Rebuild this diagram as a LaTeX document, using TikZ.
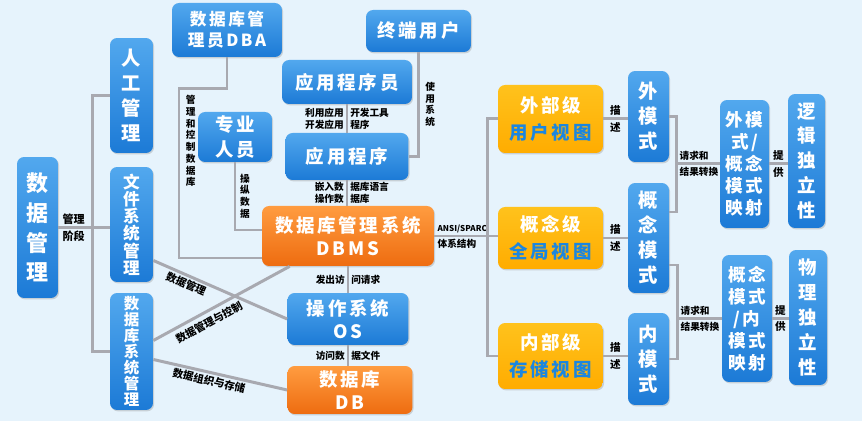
\documentclass[tikz,border=0pt]{standalone}
\usepackage{fontspec}
\usetikzlibrary{calc,shadows}
\newfontfamily\hei{Noto Sans CJK SC}
\newfontfamily\heils{Noto Sans CJK SC}[LetterSpace=15]
\definecolor{bgc}{HTML}{E6F3FC}
\definecolor{bluet}{HTML}{52A8EE}
\definecolor{blueb}{HTML}{1C7AD6}
\definecolor{orgt}{HTML}{FF9C40}
\definecolor{orgb}{HTML}{EE6C10}
\definecolor{ylwt}{HTML}{FFC21C}
\definecolor{ylwb}{HTML}{FFAC00}
\definecolor{ylwtext}{HTML}{1B86E0}
\definecolor{linec}{HTML}{A8A9B0}
\tikzset{
  fs/.style 2 args={font=\heils\bfseries\fontsize{#1}{#2}\selectfont},
  box/.style={rounded corners=4pt,inner sep=0pt,align=center,text=white,fs={10.5}{13},
    drop shadow={shadow xshift=.6pt,shadow yshift=-.8pt,opacity=.3}},
  bluebox/.style={box,top color=bluet,bottom color=blueb},
  orgbox/.style={box,top color=orgt,bottom color=orgb},
  ylwbox/.style={box,top color=ylwt,bottom color=ylwb},
  conn/.style={draw=linec,line width=1.7pt},
  lab/.style={font=\hei\bfseries\fontsize{5.5}{6.7}\selectfont,inner sep=1pt,text=black,align=center},
  biglab/.style={lab,font=\hei\bfseries\fontsize{6}{7}\selectfont}
}
\begin{document}
\begin{tikzpicture}[x=0.02cm,y=-0.02cm]
\useasboundingbox(0,0)rectangle(862,421);
\fill[bgc](0,0)rectangle(862,421);
% left part
\node[bluebox,minimum width=.82cm,minimum height=2.82cm,fs={12.5}{17}](dm)at(37.5,227.5){数\\据\\管\\理};
\node[bluebox,minimum width=.86cm,minimum height=2.3cm,fs={11}{14.2}](rg)at(131.5,95.5){人\\工\\管\\理};
\node[bluebox,minimum width=.86cm,minimum height=2.3cm,fs={9.5}{9.8}](wj)at(131.5,224.5){文\\件\\系\\统\\管\\理};
\node[bluebox,minimum width=.86cm,minimum height=2.34cm,fs={8.8}{9.1}](sjk)at(131.5,351.5){数\\据\\库\\系\\统\\管\\理};
\node[bluebox,minimum width=2.2cm,minimum height=1.08cm,fs={9.5}{12}](dba)at(227,30){数据库管\\理员DBA};
\node[bluebox,minimum width=2.1cm,minimum height=.84cm](zd)at(418.5,31){终端用户};
\node[bluebox,minimum width=2.6cm,minimum height=.88cm](yycxy)at(347,82){应用程序员};
\node[bluebox,minimum width=1.48cm,minimum height=1cm,fs={10.5}{14}](zy)at(235,137){专业\\人员};
\node[bluebox,minimum width=2.46cm,minimum height=.94cm](yyc)at(347,156.5){应用程序};
\node[orgbox,minimum width=3.44cm,minimum height=1.2cm](dbms)at(348,236){数据库管理系统\\DBMS};
\node[bluebox,minimum width=2.42cm,minimum height=1.04cm](os)at(348,319){操作系统\\OS};
\node[orgbox,minimum width=2.5cm,minimum height=.96cm](db)at(350,390){数据库\\DB};
% right part
\node[ylwbox,minimum width=2.1cm,minimum height=1.36cm,fs={10.5}{15}](wbj)at(550.5,119){外部级\\{\color{ylwtext}用户视图}};
\node[ylwbox,minimum width=2.1cm,minimum height=1.24cm,fs={10.5}{15}](gnj)at(550.5,238){概念级\\{\color{ylwtext}全局视图}};
\node[ylwbox,minimum width=2.1cm,minimum height=1.32cm,fs={10.5}{15}](nbj)at(550.5,356){内部级\\{\color{ylwtext}存储视图}};
\node[bluebox,minimum width=.82cm,minimum height=1.82cm,fs={11}{14.2}](wms)at(648.5,116.5){外\\模\\式};
\node[bluebox,minimum width=.82cm,minimum height=2.2cm,fs={11}{14.2}](gnms)at(648.5,238){概\\念\\模\\式};
\node[bluebox,minimum width=.82cm,minimum height=1.84cm,fs={11}{14.2}](nms)at(648.5,359){内\\模\\式};
\node[bluebox,minimum width=.98cm,minimum height=2.56cm,fs={10}{12.5}](ysa)at(744.5,164){外模\\式/\\概念\\模式\\映射};
\node[bluebox,minimum width=.74cm,minimum height=2.68cm,fs={10.5}{14.2}](lj)at(806.5,161){逻\\辑\\独\\立\\性};
\node[bluebox,minimum width=1cm,minimum height=2.54cm,fs={10}{12.5}](ysb)at(747,318.5){概念\\模式\\/内\\模式\\映射};
\node[bluebox,minimum width=.76cm,minimum height=2.7cm,fs={10.5}{14.2}](wl)at(808,317.5){物\\理\\独\\立\\性};
% connectors
\draw[conn](dm.east)--(dm.east-|wj.west)node[biglab,pos=.3,above,font=\hei\bfseries\fontsize{6.3}{7}\selectfont]{管理}node[biglab,pos=.3,below,font=\hei\bfseries\fontsize{6.3}{7}\selectfont]{阶段};
\draw[conn](rg.west)--++(-17,0)|-(sjk.west);
\draw[conn](dba.south)--++(0,31)--++(-48,0)node[lab,anchor=north west,xshift=2pt,yshift=-2pt]{管\\理\\和\\控\\制\\数\\据\\库}|-($(dbms.west)+(0,22)$);
\draw[conn](zy.south)|-($(dbms.west)+(0,-6)$)node[lab,pos=.25,right,xshift=1pt]{操\\纵\\数\\据};
\draw[conn](zd.south)|-(yyc.east)node[lab,pos=.25,right,xshift=2pt]{使\\用\\系\\统};
\draw[conn](yycxy.south)--(yyc.north)node[lab,midway,left,align=right]{利用应用\\开发应用}node[lab,midway,right,align=left]{开发工具\\程序};
\draw[conn](yyc.south)--(yyc.south|-dbms.north)node[lab,midway,left,align=right]{嵌入数\\操作数}node[lab,midway,right,align=left]{据库语言\\据库};
\draw[conn](dbms.south)--(dbms.south|-os.north)node[lab,midway,left]{发出访}node[lab,midway,right]{问请求};
\draw[conn](os.south)--(os.south|-db.north)node[lab,midway,left]{访问数}node[lab,midway,right]{据文件};
\draw[conn]($(wj.east)+(0,36)$)--(os.west)node[biglab,pos=.27,sloped,below]{数据管理};
\draw[conn]($(sjk.east)+(0,-11)$)--($(dbms.south west)+(28,0)$)node[biglab,pos=.37,sloped,below,yshift=-1.5pt]{数据管理与控制};
\draw[conn]($(sjk.east)+(0,8)$)--(db.west)node[biglab,pos=.43,sloped,below]{数据组织与存储};
\draw[conn](dbms.east)--(dbms.east-|gnj.west)node[lab,pos=0,above right,font=\hei\bfseries\fontsize{4.6}{6}\selectfont]{ANSI/SPARC}node[lab,pos=0,below right]{体系结构};
\draw[conn](wbj.west)--++(-10,0)|-(nbj.west);
\draw[conn](wbj.east)--(wbj.east-|wms.west)node[biglab,midway,above]{描}node[biglab,midway,below]{述};
\draw[conn](gnj.east)--(gnj.east-|gnms.west)node[biglab,midway,above]{描}node[biglab,midway,below]{述};
\draw[conn](nbj.east)--(nbj.east-|nms.west)node[biglab,midway,above]{描}node[biglab,midway,below]{述};
\draw[conn](wms.east)--++(7,0)coordinate(ba)|-($(gnms.east)+(0,-26)$);
\draw[conn](ysa.west)--(ysa.west-|ba)node[lab,pos=1,above right]{请求和}node[lab,pos=1,below right]{结果转换};
\draw[conn]($(gnms.east)+(0,27)$)--++(8,0)coordinate(bb)|-(nms.east);
\draw[conn](ysb.west)--(ysb.west-|bb)node[lab,pos=1,above right]{请求和}node[lab,pos=1,below right]{结果转换};
\draw[conn](ysa.east)--(ysa.east-|lj.west)node[biglab,midway,above]{提}node[biglab,midway,below]{供};
\draw[conn](ysb.east)--(ysb.east-|wl.west)node[biglab,midway,above]{提}node[biglab,midway,below]{供};
\end{tikzpicture}
\end{document}
